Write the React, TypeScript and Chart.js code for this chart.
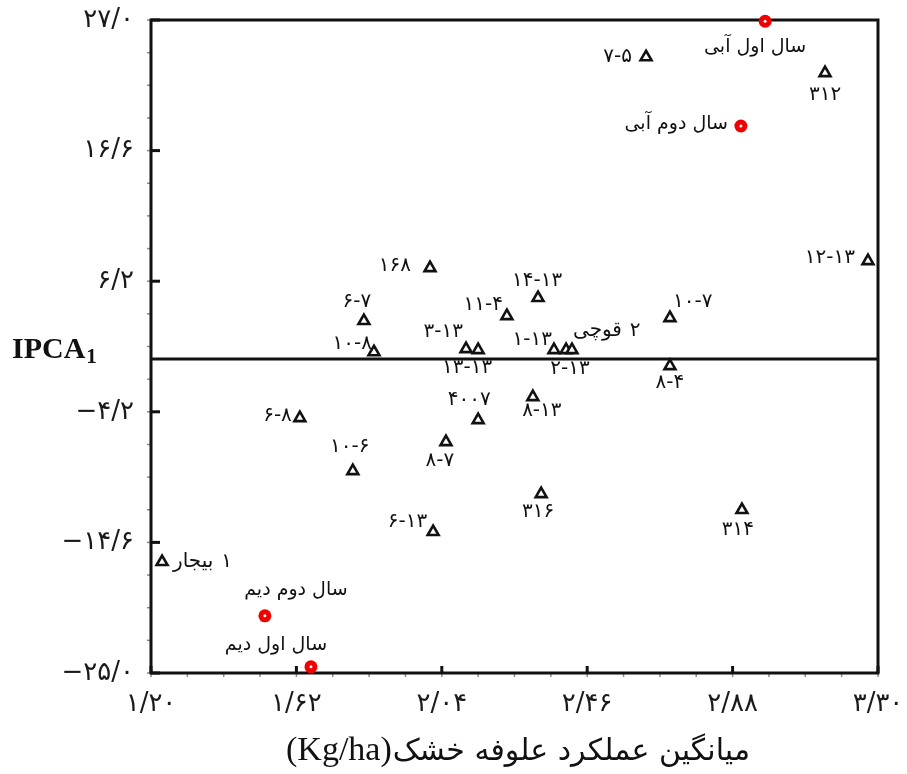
import React, { useEffect, useRef } from 'react';
import { Chart, registerables } from 'chart.js';

Chart.register(...registerables);

// ---- axis ranges & ticks ----
const X_MIN = 1.2;
const X_MAX = 3.3;
const Y_MIN = -25.0;
const Y_MAX = 27.0;
const xTickValues = [1.2, 1.62, 2.04, 2.46, 2.88, 3.3];
const yTickValues = [-25.0, -14.6, -4.2, 6.2, 16.6, 27.0];
const xMinorStep = 0.105;
const yMinorStep = 2.6;

// ---- genotypes (triangles) ----
const genotypeNames = [
  '۷-۵', '۳۱۲', '۱۲-۱۳', '۱۶۸', '۱۴-۱۳', '۶-۷', '۱۱-۴', '۱۰-۷', '۱۰-۸', '۳-۱۳',
  '۱۳-۱۳', '۱-۱۳', '۲-۱۳', 'قوچی ۲', '۸-۴', '۶-۸', '۴۰۰۷', '۸-۱۳', '۸-۷', '۱۰-۶',
  '۳۱۶', '۳۱۴', '۶-۱۳', 'بیجار ۱',
];
const genotypeYield = [
  2.63, 3.147, 3.271, 2.006, 2.318, 1.815, 2.228, 2.699, 1.844, 2.11,
  2.145, 2.364, 2.399, 2.416, 2.699, 1.63, 2.145, 2.303, 2.052, 1.783,
  2.327, 2.907, 2.015, 1.232,
];
const genotypeIPCA1 = [
  24.05, 22.78, 7.81, 7.25, 4.87, 3.04, 3.43, 3.27, 0.56, 0.8,
  0.72, 0.72, 0.72, 0.72, -0.55, -4.69, -4.85, -3.02, -6.6, -8.91,
  -10.74, -12.01, -13.76, -16.15,
];

// ---- environments (red circles) ----
const yearNames = ['سال اول آبی', 'سال دوم آبی', 'سال دوم دیم', 'سال اول دیم'];
const yearYield = [2.974, 2.904, 1.529, 1.662];
const yearIPCA1 = [26.9, 18.56, -20.45, -24.51];

// ---- label placement (style only): [dx, dy, align] ----
const genotypeLabelPlacement: [number, number, CanvasTextAlign][] = [
  [-14, 0, 'right'], [0, 22, 'center'], [-13, -3, 'right'], [-19, -2, 'right'],
  [-1, -17, 'center'], [-7, -19, 'center'], [-4, -11, 'right'], [3, -16, 'left'],
  [-2, -8, 'right'], [-3, -17, 'right'], [-11, 18, 'center'], [-2, -10, 'right'],
  [4, 19, 'center'], [1, -19, 'left'], [0, 17, 'center'], [-8, -2, 'right'],
  [-9, -20, 'center'], [9, 14, 'center'], [-6, 19, 'center'], [-3, -24, 'center'],
  [-3, 18, 'center'], [-4, 20, 'center'], [-6, -10, 'right'], [11, 0, 'left'],
];
const yearLabelPlacement: [number, number, CanvasTextAlign][] = [
  [-10, 26, 'center'], [-13, -2, 'right'], [31, -26, 'center'], [-35, -22, 'center'],
];

const FA_DIGITS = '۰۱۲۳۴۵۶۷۸۹';
const toFa = (s: string) => s.replace(/[0-9]/g, (d) => FA_DIGITS[+d]).replace('.', '/');
const fmtTick = (v: number, dec: number) => (v < 0 ? '−' : '') + toFa(Math.abs(v).toFixed(dec));
// word on the left, number on the right (as in the figure)
const visualLabel = (s: string) => s.replace(/ ([۰-۹]+)$/, ' \u200E$1');

const PERSIAN_FONT = "'DejaVu Sans', sans-serif";
const SERIF_FONT = "'Liberation Serif', 'Times New Roman', serif";

const decorPlugin = {
  id: 'decor',
  beforeDatasetsDraw(chart: any) {
    const { ctx, chartArea: a, scales } = chart;
    const x = scales.x;
    const y = scales.y;
    const line = (x1: number, y1: number, x2: number, y2: number) => {
      ctx.beginPath();
      ctx.moveTo(x1, y1);
      ctx.lineTo(x2, y2);
      ctx.stroke();
    };
    ctx.save();
    // minor ticks (outward)
    ctx.strokeStyle = '#8a8a8a';
    ctx.lineWidth = 1.5;
    for (let v = X_MIN; v <= X_MAX + 1e-9; v += xMinorStep) {
      const px = x.getPixelForValue(v);
      line(px, a.bottom, px, a.bottom + 4);
    }
    for (let v = Y_MIN; v <= Y_MAX + 1e-9; v += yMinorStep) {
      const py = y.getPixelForValue(v);
      line(a.left, py, a.left - 4, py);
    }
    // major ticks (inward)
    ctx.strokeStyle = '#111';
    ctx.lineWidth = 3;
    x.ticks.forEach((t: any) => {
      const px = x.getPixelForValue(t.value);
      line(px, a.bottom, px, a.bottom - 7);
    });
    y.ticks.forEach((t: any) => {
      const py = y.getPixelForValue(t.value);
      line(a.left, py, a.left + 9, py);
    });
    // frame
    ctx.lineWidth = 3;
    ctx.strokeRect(a.left, a.top, a.right - a.left, a.bottom - a.top);
    // zero line
    const y0 = y.getPixelForValue(0);
    line(a.left, y0, a.right, y0);

    // tick labels
    ctx.fillStyle = '#1a1a1a';
    ctx.font = `26px ${PERSIAN_FONT}`;
    (ctx as any).letterSpacing = '1px';
    ctx.textBaseline = 'middle';
    ctx.textAlign = 'right';
    y.ticks.forEach((t: any) => {
      ctx.fillText(fmtTick(t.value, 1), a.left - 17, y.getPixelForValue(t.value));
    });
    ctx.textAlign = 'center';
    x.ticks.forEach((t: any) => {
      ctx.fillText(fmtTick(t.value, 2), x.getPixelForValue(t.value), a.bottom + 31);
    });
    ctx.restore();
  },
  afterDatasetsDraw(chart: any) {
    const { ctx } = chart;
    ctx.save();
    // white centre of red dots
    const yearMeta = chart.getDatasetMeta(1);
    ctx.fillStyle = '#fff';
    yearMeta.data.forEach((pt: any) => {
      ctx.beginPath();
      ctx.arc(pt.x, pt.y, 1.5, 0, Math.PI * 2);
      ctx.fill();
    });
    // point labels
    ctx.fillStyle = '#111';
    ctx.textBaseline = 'middle';
    ctx.font = `20px ${PERSIAN_FONT}`;
    (ctx as any).letterSpacing = '1.5px';
    const genoMeta = chart.getDatasetMeta(0);
    genoMeta.data.forEach((pt: any, i: number) => {
      const [dx, dy, al] = genotypeLabelPlacement[i];
      ctx.textAlign = al;
      ctx.fillText(visualLabel(genotypeNames[i]), pt.x + dx, pt.y + dy);
    });
    (ctx as any).letterSpacing = '0px';
    ctx.font = `19px ${PERSIAN_FONT}`;
    yearMeta.data.forEach((pt: any, i: number) => {
      const [dx, dy, al] = yearLabelPlacement[i];
      ctx.textAlign = al;
      ctx.fillText(yearNames[i], pt.x + dx, pt.y + dy);
    });
    // y axis title: IPCA1
    ctx.textAlign = 'left';
    ctx.textBaseline = 'alphabetic';
    ctx.font = `bold 30px ${SERIF_FONT}`;
    const yTitleBase = chart.scales.y.getPixelForValue(0) - 1;
    ctx.fillText('IPCA', 12, yTitleBase);
    const w = ctx.measureText('IPCA').width;
    ctx.font = `bold 21px ${SERIF_FONT}`;
    ctx.fillText('1', 12 + w + 1, yTitleBase + 5);
    // x axis title
    ctx.font = `34px ${SERIF_FONT}`;
    const unit = '(Kg/ha)';
    const x0 = 286;
    ctx.fillText(unit, x0, 760);
    const uw = ctx.measureText(unit).width;
    ctx.font = `30px ${PERSIAN_FONT}`;
    ctx.fillText('میانگین عملکرد علوفه خشک', x0 + uw + 1, 760);
    ctx.restore();
  },
};

export default function App() {
  const canvasRef = useRef<HTMLCanvasElement | null>(null);

  useEffect(() => {
    document.body.style.margin = '0';
    document.body.style.overflow = 'hidden';
    const canvas = canvasRef.current;
    if (!canvas) return;
    const chart = new Chart(canvas, {
      type: 'scatter',
      data: {
        datasets: [
          {
            label: 'genotypes',
            data: genotypeYield.map((v, i) => ({ x: v, y: genotypeIPCA1[i] })),
            pointStyle: 'triangle',
            pointRadius: 6.3,
            pointHoverRadius: 6.3,
            pointBorderWidth: 2.6,
            borderColor: '#111',
            backgroundColor: '#fff',
            clip: false as any,
          },
          {
            label: 'years',
            data: yearYield.map((v, i) => ({ x: v, y: yearIPCA1[i] })),
            pointStyle: 'circle',
            pointRadius: 6.5,
            pointHoverRadius: 6.5,
            pointBorderWidth: 0,
            borderColor: '#f00000',
            backgroundColor: '#f00000',
            clip: false as any,
          },
        ],
      },
      options: {
        animation: false,
        responsive: false,
        devicePixelRatio: 1,
        layout: { padding: { top: 20, right: 29, left: 0, bottom: 0 } },
        plugins: {
          legend: { display: false },
          tooltip: { enabled: false },
          title: { display: false },
        },
        events: [],
        scales: {
          x: {
            type: 'linear',
            min: X_MIN,
            max: X_MAX,
            grid: { display: false },
            border: { display: false },
            afterBuildTicks: (scale: any) => {
              scale.ticks = xTickValues.map((v) => ({ value: v }));
            },
            afterFit: (scale: any) => {
              scale.height = 101;
            },
            ticks: { display: false },
          },
          y: {
            type: 'linear',
            min: Y_MIN,
            max: Y_MAX,
            grid: { display: false },
            border: { display: false },
            afterBuildTicks: (scale: any) => {
              scale.ticks = yTickValues.map((v) => ({ value: v }));
            },
            afterFit: (scale: any) => {
              scale.width = 151;
            },
            ticks: { display: false },
          },
        },
      },
      plugins: [decorPlugin],
    });
    return () => chart.destroy();
  }, []);

  return (
    <div style={{ width: 907, height: 774, background: '#fff' }}>
      <canvas ref={canvasRef} width={907} height={774} style={{ display: 'block' }} />
    </div>
  );
}
